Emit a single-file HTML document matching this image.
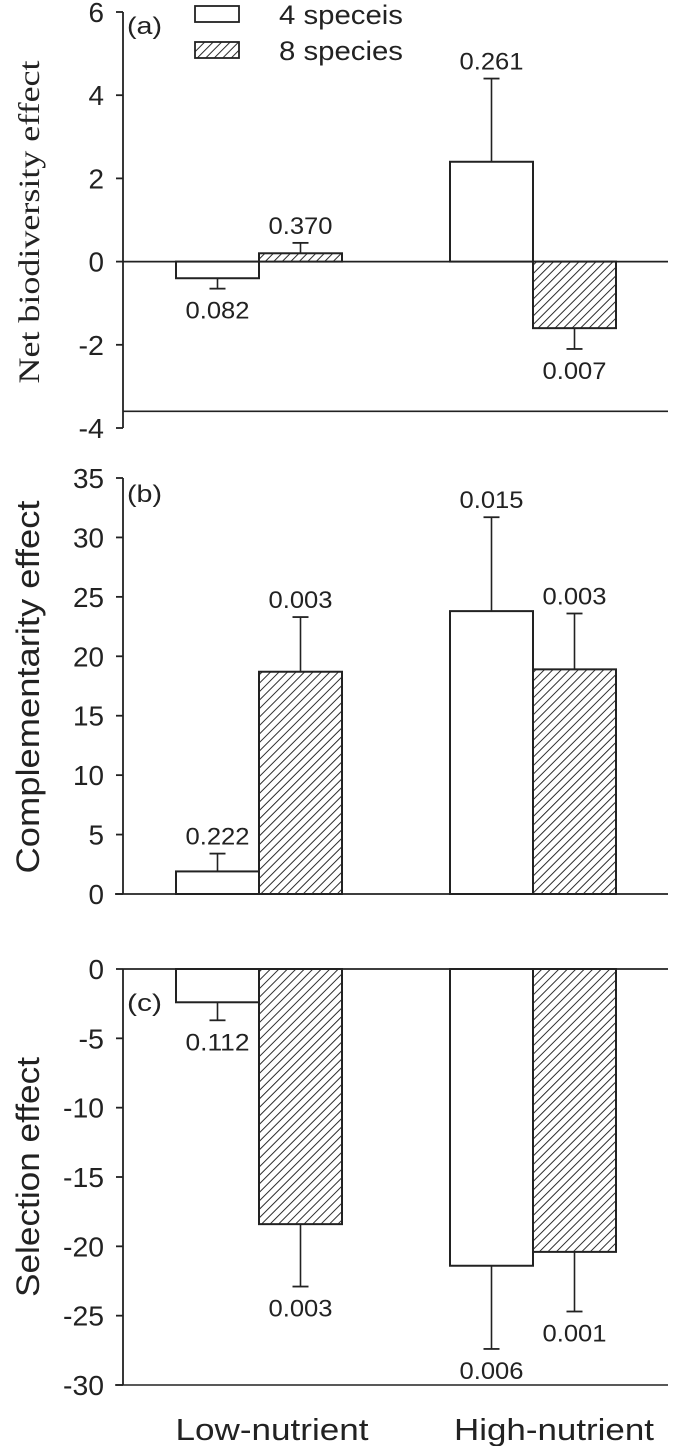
<!DOCTYPE html>
<html><head><meta charset="utf-8"><style>
html,body{margin:0;padding:0;background:#fff;}
svg{display:block;}
</style></head><body>
<svg id="chart" width="685" height="1446" viewBox="0 0 685 1446" xmlns="http://www.w3.org/2000/svg" font-family="Liberation Sans, Arial, sans-serif" fill="#222">
<defs>
<pattern id="hatch" patternUnits="userSpaceOnUse" width="6" height="6" patternTransform="rotate(45)">
<rect width="6" height="6" fill="#fff"/>
<line x1="0" y1="0" x2="0" y2="6" stroke="#222" stroke-width="1.9"/>
</pattern>
</defs>
<g id="root"></g>
</svg>
<script>
const categories = ["Low-nutrient", "High-nutrient"];
const seriesNames = ["4 speceis", "8 species"];
// panel (a) Net biodiversity effect
const netMeans4 = [-0.4, 2.4];
const netMeans8 = [0.2, -1.6];
const netErr4 = [-0.65, 4.4];
const netErr8 = [0.45, -2.1];
const netP4 = ["0.082", "0.261"];
const netP8 = ["0.370", "0.007"];
const netTicks = [6, 4, 2, 0, -2, -4];
// panel (b) Complementarity effect
const compMeans4 = [1.9, 23.8];
const compMeans8 = [18.7, 18.9];
const compErr4 = [3.4, 31.7];
const compErr8 = [23.3, 23.6];
const compP4 = ["0.222", "0.015"];
const compP8 = ["0.003", "0.003"];
const compTicks = [35, 30, 25, 20, 15, 10, 5, 0];
// panel (c) Selection effect
const selMeans4 = [-2.4, -21.4];
const selMeans8 = [-18.4, -20.4];
const selErr4 = [-3.7, -27.4];
const selErr8 = [-22.9, -24.7];
const selP4 = ["0.112", "0.006"];
const selP8 = ["0.003", "0.001"];
const selTicks = [0, -5, -10, -15, -20, -25, -30];

const NS = "http://www.w3.org/2000/svg";
const root = document.getElementById("root");
function mk(tag, attrs, parent) {
  const e = document.createElementNS(NS, tag);
  for (const k in attrs) e.setAttribute(k, attrs[k]);
  (parent || root).appendChild(e);
  return e;
}
function tlen(s) {
  let w = 0;
  for (const ch of String(s)) w += ch === "-" ? 10 : 15.5;
  return w;
}
const axisX = 123, plotRight = 668;
const groupLeft = [176, 450];
const barW = 83;

function panel(cfg) {
  const g = mk("g", {});
  
  
  const y = v => cfg.y0 + (cfg.vmax - v) * (cfg.y1 - cfg.y0) / (cfg.vmax - cfg.vmin);
  const ax = mk("line", {x1: axisX, x2: axisX, y1: y(cfg.vmax), y2: y(cfg.vmin), stroke: "#222", "stroke-width": 1.8}, g);
  
  
  cfg.ticks.forEach(t => {
    mk("line", {x1: axisX - 7, x2: axisX, y1: y(t), y2: y(t), stroke: "#222", "stroke-width": 1.8}, g);
    const tl = mk("text", {x: 104, y: y(t) + 10, "text-anchor": "end", "font-size": 28, textLength: tlen(t), lengthAdjust: "spacingAndGlyphs"}, g);
    tl.textContent = t;
    
    
  });
  const z = mk("line", {x1: cfg.zeroStart, x2: plotRight, y1: y(0), y2: y(0), stroke: "#222", "stroke-width": 1.8}, g);
  
  
  if (cfg.bottomLine !== undefined) {
    const b = mk("line", {x1: cfg.bottomStart, x2: plotRight, y1: y(cfg.bottomLine), y2: y(cfg.bottomLine), stroke: "#222", "stroke-width": 1.6}, g);
    
    
  }
  const series = [
    {m: cfg.m4, e: cfg.e4, p: cfg.p4, fill: "#fff", off: 0, nm: "4-species"},
    {m: cfg.m8, e: cfg.e8, p: cfg.p8, fill: "url(#hatch)", off: barW, nm: "8-species"}
  ];
  series.forEach(s => {
    categories.forEach((c, i) => {
      const x = groupLeft[i] + s.off, v = s.m[i];
      const top = Math.min(y(v), y(0)), h = Math.abs(y(v) - y(0));
      const cx = x + barW / 2;
      const el = mk("line", {x1: cx, x2: cx, y1: y(v), y2: y(s.e[i]), stroke: "#222", "stroke-width": 1.6}, g);
      
      
      mk("line", {x1: cx - 8, x2: cx + 8, y1: y(s.e[i]), y2: y(s.e[i]), stroke: "#222", "stroke-width": 1.8}, g);
      const r = mk("rect", {x: x, y: top, width: barW, height: h, fill: s.fill, stroke: "#222", "stroke-width": 2}, g);
      
      
      const up = s.e[i] >= 0 && v >= 0;
      const ty = up ? y(s.e[i]) - 9 : y(s.e[i]) + 30;
      const t = mk("text", {x: cx, y: ty, "text-anchor": "middle", "font-size": 24, textLength: 64, lengthAdjust: "spacingAndGlyphs"}, g);
      t.textContent = s.p[i];
      
      
    });
  });
  const pl = mk("text", {x: 127, y: y(cfg.vmax) + cfg.labelDy, "font-size": 24, textLength: 35, lengthAdjust: "spacingAndGlyphs"}, g);
  pl.textContent = cfg.label;
  
  
  const yt = mk("text", {x: 0, y: 0, "text-anchor": "middle", "font-size": cfg.titleSize, "font-family": cfg.titleFont, textLength: cfg.titleLen, lengthAdjust: "spacingAndGlyphs", transform: `translate(39,${cfg.titleY}) rotate(-90)`}, g);
  yt.textContent = cfg.title;
  
  
}

panel({name: "panel-a", y0: 12, y1: 428, vmax: 6, vmin: -4, ticks: netTicks, m4: netMeans4, m8: netMeans8, e4: netErr4, e8: netErr8, p4: netP4, p8: netP8, zeroStart: axisX, bottomLine: -3.6, bottomStart: axisX, label: "(a)", labelDy: 22, title: "Net biodiversity  effect", titleY: 222, titleLen: 323, titleSize: 30, titleFont: "Liberation Serif, serif"});
panel({name: "panel-b", y0: 478, y1: 894, vmax: 35, vmin: 0, ticks: compTicks, m4: compMeans4, m8: compMeans8, e4: compErr4, e8: compErr8, p4: compP4, p8: compP8, zeroStart: 115, label: "(b)", labelDy: 24, title: "Complementarity  effect", titleY: 687, titleLen: 373, titleSize: 32, titleFont: "Liberation Sans, sans-serif"});
panel({name: "panel-c", y0: 969, y1: 1385, vmax: 0, vmin: -30, ticks: selTicks, m4: selMeans4, m8: selMeans8, e4: selErr4, e8: selErr8, p4: selP4, p8: selP8, zeroStart: axisX, bottomLine: -30, bottomStart: 115, label: "(c)", labelDy: 42, title: "Selection effect", titleY: 1177, titleLen: 240, titleSize: 32, titleFont: "Liberation Sans, sans-serif"});

const catX = [272, 554];
categories.forEach((c, i) => {
  const t = mk("text", {x: catX[i], y: 1440, "text-anchor": "middle", "font-size": 31, textLength: i === 0 ? 193 : 200, lengthAdjust: "spacingAndGlyphs"});
  t.textContent = c;
  
  
});
const legY = [6, 42];
const legFill = ["#fff", "url(#hatch)"];
seriesNames.forEach((s, i) => {
  const r = mk("rect", {x: 195, y: legY[i], width: 44, height: 16, fill: legFill[i], stroke: "#222", "stroke-width": 1.8});
  
  
  const t = mk("text", {x: 279, y: legY[i] + 18, "font-size": 27, textLength: 124, lengthAdjust: "spacingAndGlyphs"});
  t.textContent = s;
  
  
});
</script>
</body></html>
